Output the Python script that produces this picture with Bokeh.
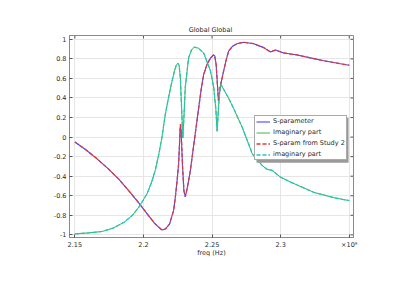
import math
from bokeh.plotting import figure
from bokeh.models import FixedTicker, Legend, LegendItem, BoxAnnotation
from bokeh.embed import file_html
from bokeh.resources import INLINE

# ---- data (freq in units of 1e9 Hz) ----
freq_re = [2.150, 2.158, 2.166, 2.174, 2.182, 2.190, 2.197, 2.203, 2.208, 2.211,
           2.2135, 2.216, 2.219, 2.2220, 2.2232, 2.2245, 2.2256, 2.2262, 2.2267, 2.2270,
           2.2275, 2.2285, 2.2295, 2.2305, 2.2315, 2.2330, 2.2342, 2.2360, 2.2380, 2.2395,
           2.2420, 2.2439, 2.2465, 2.2490, 2.2510, 2.2520, 2.2530, 2.2540, 2.2547, 2.2552,
           2.2558, 2.2565, 2.2585, 2.2605, 2.2621, 2.2650, 2.2682, 2.2731, 2.2804, 2.2877,
           2.2926, 2.2962, 2.3023, 2.3120, 2.3217, 2.3315, 2.3436, 2.3500]
s_real = [-0.05, -0.13, -0.22, -0.32, -0.43, -0.56, -0.68, -0.79, -0.88, -0.92,
          -0.95, -0.94, -0.89, -0.75, -0.62, -0.45, -0.28, -0.10, 0.08, 0.13,
          0.05, -0.30, -0.55, -0.61, -0.55, -0.44, -0.34, -0.15, 0.06, 0.22,
          0.48, 0.64, 0.75, 0.81, 0.84, 0.83, 0.74, 0.52, 0.37, 0.40,
          0.50, 0.55, 0.68, 0.80, 0.88, 0.93, 0.955, 0.97, 0.955, 0.915,
          0.87, 0.89, 0.86, 0.84, 0.81, 0.78, 0.75, 0.735]

freq_im = [2.150, 2.160, 2.170, 2.178, 2.186, 2.192, 2.197, 2.2026, 2.2060, 2.2086,
           2.2110, 2.2135, 2.2159, 2.2185, 2.2208, 2.2225, 2.2240, 2.2252, 2.2260, 2.2269,
           2.2278, 2.2287, 2.2295, 2.2305, 2.2329, 2.2350, 2.2371, 2.2400, 2.2439, 2.2488,
           2.2512, 2.2528, 2.2537, 2.2545, 2.2555, 2.2565, 2.2580, 2.2620, 2.2658, 2.2720,
           2.2780, 2.2792, 2.2865, 2.2901, 2.2938, 2.2999, 2.3072, 2.3120, 2.3242, 2.3388,
           2.3500]
s_imag = [-0.99, -0.98, -0.965, -0.93, -0.87, -0.80, -0.71, -0.58, -0.46, -0.34,
          -0.19, 0.00, 0.23, 0.42, 0.57, 0.67, 0.74, 0.755, 0.73, 0.61,
          0.30, -0.01, 0.20, 0.51, 0.81, 0.89, 0.92, 0.91, 0.86, 0.68,
          0.51, 0.28, 0.06, 0.25, 0.48, 0.54, 0.50, 0.40, 0.29, 0.10,
          -0.12, -0.17, -0.29, -0.33, -0.34, -0.41, -0.46, -0.49, -0.565, -0.62,
          -0.65]

x_ticks = [2.15, 2.2, 2.25, 2.3, 2.35]
x_tick_labels = ["2.15", "2.2", "2.25", "2.3", "\u00d710\u2079"]
y_ticks = [-1, -0.8, -0.6, -0.4, -0.2, 0, 0.2, 0.4, 0.6, 0.8, 1]
y_tick_labels = ["-1", "-0.8", "-0.6", "-0.4", "-0.2", "0", "0.2", "0.4", "0.6", "0.8", "1"]

legend_labels = ["S-parameter", "Imaginary part", "S-param from Study 2", "imaginary part"]

X0, X1 = 2.1461, 2.3531
Y0, Y1 = -1.027, 1.039

FONT = "DejaVu Sans"
FS = "6.5px"
TXT = "#2a2a2a"
FRAME = "#8a8a8a"
TICK = "#555555"

p = figure(width=420, height=290, x_range=(X0, X1), y_range=(Y0, Y1),
           output_backend="svg", toolbar_location=None,
           min_border_left=69, min_border_right=67, min_border_top=35, min_border_bottom=53,
           background_fill_color="white", border_fill_color="white")

p.title.text = "Global  Global"
p.title.text_font = FONT
p.title.text_font_size = FS
p.title.text_font_style = "normal"
p.title.text_color = TXT
p.title.align = "center"
p.title.offset = -9
p.title.standoff = 4

p.outline_line_color = FRAME
p.outline_line_width = 1

xt = FixedTicker(ticks=x_ticks)
yt = FixedTicker(ticks=y_ticks)
p.xaxis.ticker = xt
p.yaxis.ticker = yt
p.xgrid.ticker = xt
p.ygrid.ticker = yt
p.grid.grid_line_color = "#e6e6e6"
p.grid.grid_line_width = 1

p.xaxis.major_label_overrides = dict(zip(x_ticks, x_tick_labels))
p.yaxis.major_label_overrides = dict(zip(y_ticks, y_tick_labels))
p.xaxis.axis_label = "freq (Hz)"
p.xaxis.axis_label_standoff = -3
p.xaxis.axis_label_text_font = FONT
p.xaxis.axis_label_text_font_size = FS
p.xaxis.axis_label_text_font_style = "normal"
p.xaxis.axis_label_text_color = TXT

for ax in [p.xaxis[0], p.yaxis[0]]:
    ax.major_label_text_font = FONT
    ax.major_label_text_font_size = FS
    ax.major_label_text_color = TXT
    ax.major_label_standoff = 3
    ax.major_tick_in = 3
    ax.major_tick_out = 0
    ax.minor_tick_line_color = None
    ax.axis_line_color = FRAME
    ax.major_tick_line_color = TICK

# inward tick marks on the top and right edges of the frame
p.ray(x=x_ticks, y=[Y1] * len(x_ticks), length=3, length_units="screen",
      angle=-math.pi / 2, line_color=TICK, line_width=1)
p.ray(x=[X1] * len(y_ticks), y=y_ticks, length=3, length_units="screen",
      angle=math.pi, line_color=TICK, line_width=1)

r1 = p.line(freq_re, s_real, line_color="#4444ff", line_width=1.1)
r2 = p.line(freq_im, s_imag, line_color="#44b044", line_width=1.0)
r3 = p.line(freq_re, s_real, line_color="#e03a3a", line_width=1.3, line_dash="4 2")
r4 = p.line(freq_im, s_imag, line_color="#22c8c0", line_width=1.3, line_dash="4 2")

shadow = BoxAnnotation(left=2.2824, right=2.3495, top=0.197, bottom=-0.262,
                       fill_color="#9a9a9a", fill_alpha=1.0, line_color=None)
p.add_layout(shadow)

legend = Legend(items=[LegendItem(label=l, renderers=[r]) for l, r in zip(legend_labels, [r1, r2, r3, r4])],
                location=(185, 77), padding=1, spacing=3, label_height=7, glyph_height=7,
                glyph_width=14, label_standoff=3, margin=0,
                label_text_font=FONT, label_text_font_size=FS, label_text_color=TXT,
                border_line_color="#555555", border_line_width=1,
                background_fill_color="white", background_fill_alpha=1.0)
p.add_layout(legend, "center")

open("out.html", "w").write(file_html(p, INLINE))
